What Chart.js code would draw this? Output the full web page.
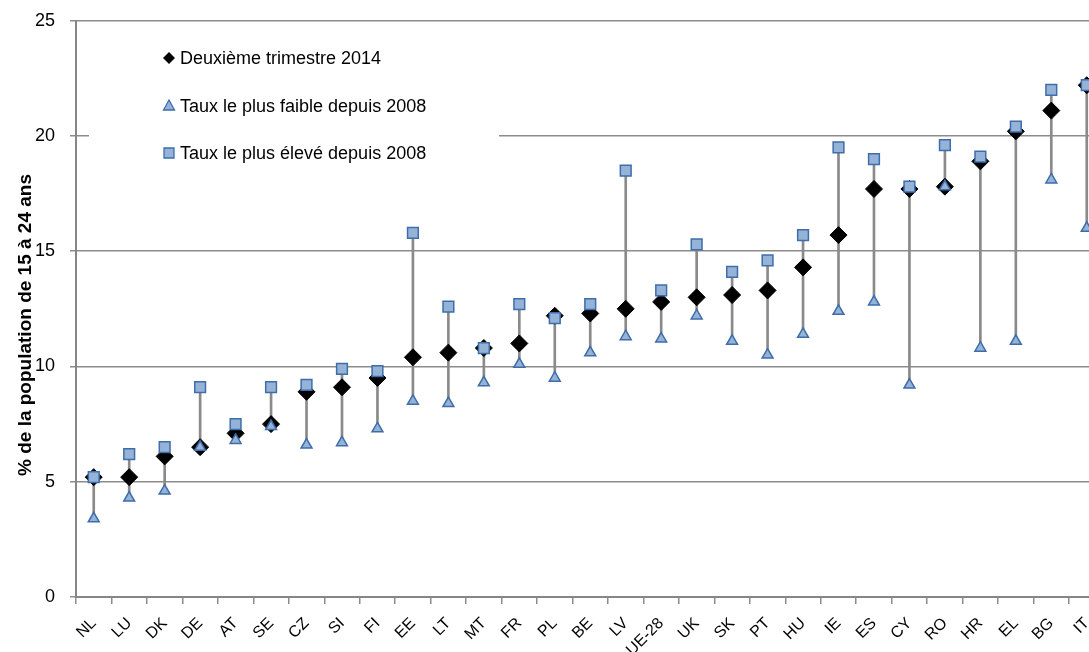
<!DOCTYPE html>
<html>
<head>
<meta charset="utf-8">
<script src="https://cdn.jsdelivr.net/npm/chart.js@4"></script>
<style>
html,body{margin:0;padding:0;background:#fff;overflow:hidden;}
#wrap{position:relative;width:1114px;height:652px;}
</style>
</head>
<body>
<div id="wrap"><canvas id="c"></canvas></div>
<script>
const categories = ['NL','LU','DK','DE','AT','SE','CZ','SI','FI','EE','LT','MT','FR','PL','BE','LV','UE-28','UK','SK','PT','HU','IE','ES','CY','RO','HR','EL','BG','IT'];
const q2_2014 = [5.2,5.2,6.1,6.5,7.1,7.5,8.9,9.1,9.5,10.4,10.6,10.8,11.0,12.2,12.3,12.5,12.8,13.0,13.1,13.3,14.3,15.7,17.7,17.7,17.8,18.9,20.2,21.1,22.2];
const lowest = [3.4,4.3,4.6,6.5,6.8,7.4,6.6,6.7,7.3,8.5,8.4,9.3,10.1,9.5,10.6,11.3,11.2,12.2,11.1,10.5,11.4,12.4,12.8,9.2,17.8,10.8,11.1,18.1,16.0];
const highest = [5.2,6.2,6.5,9.1,7.5,9.1,9.2,9.9,9.8,15.8,12.6,10.8,12.7,12.1,12.7,18.5,13.3,15.3,14.1,14.6,15.7,19.5,19.0,17.8,19.6,19.1,20.4,22.0,22.2];
const yTicks = [0,5,10,15,20,25];
const seriesNames = ['Deuxième trimestre 2014','Taux le plus faible depuis 2008','Taux le plus élevé depuis 2008'];
const yTitle = '% de la population de 15 à 24 ans';

const ranges = lowest.map((lo, i) => [Math.min(lo, q2_2014[i]), Math.max(highest[i], q2_2014[i])]);

const BLUE_FILL = '#95b3d7';
const BLUE_EDGE = '#3e6daa';
const GRID = '#8c8c8c';

const legendPlugin = {
  id: 'customLegend',
  afterDraw(chart) {
    const ctx = chart.ctx;
    ctx.save();
    ctx.fillStyle = '#fff';
    ctx.fillRect(89, 30, 410, 148);
    const ys = [58, 106, 153];
    const mx = 169;
    ctx.font = '18px "Liberation Sans", Arial, sans-serif';
    ctx.textBaseline = 'middle';
    ctx.textAlign = 'left';
    seriesNames.forEach((name, i) => {
      const y = ys[i];
      ctx.beginPath();
      if (i === 0) {
        ctx.moveTo(mx - 6, y); ctx.lineTo(mx, y - 6); ctx.lineTo(mx + 6, y); ctx.lineTo(mx, y + 6); ctx.closePath();
        ctx.fillStyle = '#000'; ctx.fill();
      } else if (i === 1) {
        ctx.moveTo(mx, y - 6); ctx.lineTo(mx + 5.5, y + 4); ctx.lineTo(mx - 5.5, y + 4); ctx.closePath();
        ctx.fillStyle = BLUE_FILL; ctx.fill(); ctx.lineWidth = 1.3; ctx.strokeStyle = BLUE_EDGE; ctx.stroke();
      } else {
        ctx.rect(mx - 5, y - 5, 10, 10);
        ctx.fillStyle = BLUE_FILL; ctx.fill(); ctx.lineWidth = 1.3; ctx.strokeStyle = BLUE_EDGE; ctx.stroke();
      }
      ctx.fillStyle = '#000';
      ctx.fillText(name, 180, y + 1);
    });
    // y-axis title
    ctx.translate(26, 325);
    ctx.rotate(-Math.PI / 2);
    ctx.textAlign = 'center';
    ctx.textBaseline = 'middle';
    ctx.font = 'bold 19px "Liberation Sans", Arial, sans-serif';
    ctx.fillText(yTitle, 0, 0);
    ctx.restore();
  }
};

new Chart(document.getElementById('c'), {
  type: 'bar',
  data: {
    labels: categories,
    datasets: [
      {
        type: 'bar', label: 'range', data: ranges,
        backgroundColor: '#8a8a8a', barThickness: 2, grouped: false, order: 4
      },
      {
        type: 'line', label: seriesNames[0], data: q2_2014, showLine: false,
        pointStyle: 'rectRot', pointRadius: 8.5, pointBackgroundColor: '#000', pointBorderColor: '#000',
        pointBorderWidth: 1, order: 3
      },
      {
        type: 'line', label: seriesNames[1], data: lowest, showLine: false,
        pointStyle: 'triangle', pointRadius: 6.3, pointBackgroundColor: BLUE_FILL, pointBorderColor: BLUE_EDGE,
        pointBorderWidth: 1.5, order: 2
      },
      {
        type: 'line', label: seriesNames[2], data: highest, showLine: false,
        pointStyle: 'rect', pointRadius: 7.6, pointBackgroundColor: BLUE_FILL, pointBorderColor: BLUE_EDGE,
        pointBorderWidth: 1.5, order: 1
      }
    ]
  },
  options: {
    responsive: true,
    maintainAspectRatio: false,
    animation: false,
    layout: { padding: { top: 20.7, right: 2, left: 0, bottom: 0 } },
    plugins: { legend: { display: false }, tooltip: { enabled: false } },
    scales: {
      x: {
        offset: true,
        grid: { offset: true, drawOnChartArea: false, drawTicks: true, tickLength: 7, color: GRID, lineWidth: 1.5 },
        border: { color: '#868686', width: 2 },
        ticks: {
          minRotation: 45, maxRotation: 45, autoSkip: false, padding: 10,
          color: '#000', font: { family: '"Liberation Sans", Arial, sans-serif', size: 16 }
        },
        afterFit(scale) { scale.height = 55; }
      },
      y: {
        min: 0, max: 25,
        afterBuildTicks(scale) { scale.ticks = yTicks.map(v => ({ value: v })); },
        grid: { color: GRID, lineWidth: 1.5, drawTicks: true, tickLength: 6 },
        border: { color: '#868686', width: 2 },
        ticks: {
          padding: 15, color: '#000',
          font: { family: '"Liberation Sans", Arial, sans-serif', size: 18 }
        },
        afterFit(scale) { scale.width = 76; scale.paddingTop = 0; scale.paddingBottom = 0; }
      }
    }
  },
  plugins: [legendPlugin]
});
</script>
</body>
</html>
